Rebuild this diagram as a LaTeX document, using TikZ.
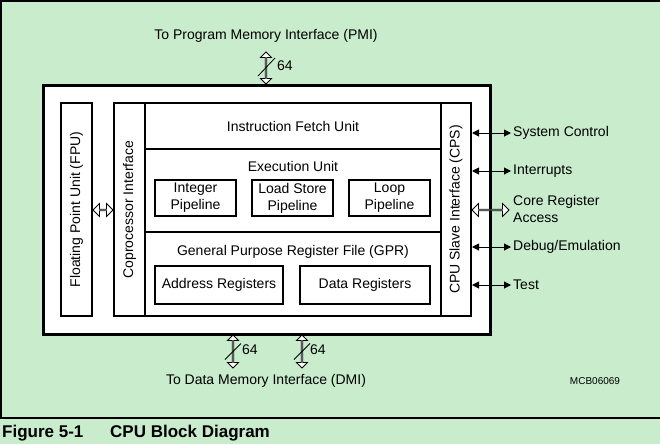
\documentclass[tikz,border=0pt]{standalone}
\usepackage{fontspec}
\setmainfont{Liberation Sans}
\usetikzlibrary{arrows.meta}
\usetikzlibrary{shapes.arrows}
\definecolor{bggreen}{RGB}{200,236,204}
\tikzset{
	% Boxes and arrows of the block diagram
	unit box/.style={rectangle,draw,line width=2pt,fill=white,inner sep=0pt},
	signal arrow/.style={{Triangle[length=7pt,width=7pt]}-{Triangle[length=7pt,width=7pt]},line width=1pt},
	hollow arrow/.style={double arrow,draw,fill=white,line width=0.8pt,inner sep=0pt,double arrow head extend=3.5pt,minimum width=13pt},
	bus arrow/.style={hollow arrow,double arrow head extend=2.5pt,minimum width=11pt,rotate=90}
}

\begin{document}
\begin{tikzpicture}[x=1pt,y=-1pt,font=\fontsize{14}{17}\selectfont]
	\fill[bggreen] (0,0) rectangle (660,444);
	\useasboundingbox (0,0) rectangle (660,444);
	\begin{scope}
		\clip (0,0) rectangle (660,444);
		\draw[line width=1.5pt] (1,1) rectangle (700,418);
	\end{scope}
	
	% CPU outline and its blocks
	\node(cpu)[unit box,line width=3pt,minimum width=447pt,minimum height=249pt] at (266.5,209.5){};
	\node(fpu)[unit box,rotate=90,minimum width=213pt,minimum height=31pt] at (76.5,209.5){Floating Point Unit (FPU)};
	\node(cop)[unit box,rotate=90,minimum width=213pt,minimum height=31pt] at (129.5,209.5){Coprocessor Interface};
	\node(cps)[unit box,rotate=90,minimum width=213pt,minimum height=30pt] at (456,209.5){CPU Slave Interface (CPS)};
	\node(ifu)[unit box,minimum width=296pt,minimum height=46pt] at (293,126){Instruction Fetch Unit};
	\node(exu)[unit box,minimum width=296pt,minimum height=83pt] at (293,190.5){};
	\node(gpr)[unit box,minimum width=296pt,minimum height=84pt] at (293,274){};
	\node(exutitle) at (293,166){Execution Unit};
	\node(gprtitle) at (293,252){General Purpose Register File (GPR)};
	
	% pipelines and register sets
	\node(intp)[unit box,minimum width=81pt,minimum height=36pt,align=center] at (195.5,198){Integer\\Pipeline};
	\node(lsp)[unit box,minimum width=81pt,minimum height=36pt,align=center] at (292.5,198){Load Store\\Pipeline};
	\node(loopp)[unit box,minimum width=81pt,minimum height=36pt,align=center] at (389.5,198){Loop\\Pipeline};
	\node(areg)[unit box,minimum width=128pt,minimum height=38pt] at (219,285){Address Registers};
	\node(dreg)[unit box,minimum width=130pt,minimum height=38pt] at (365,285){Data Registers};
	
	% FPU to coprocessor interface
	\node(fpuarr)[hollow arrow,minimum height=20pt] at (103,210){};
	
	% signals at the slave interface
	\node(sysc)[anchor=west,inner sep=2pt] at (511,133){System Control};
	\node(intr)[anchor=west,inner sep=2pt] at (511,171){Interrupts};
	\node(creg)[anchor=west,inner sep=2pt,align=left] at (511,208.5){Core Register\\Access};
	\node(dbg)[anchor=west,inner sep=2pt] at (511,247){Debug/Emulation};
	\node(tst)[anchor=west,inner sep=2pt] at (511,285){Test};
	\draw[signal arrow] (cps.south |- sysc) -- (sysc.west);
	\draw[signal arrow] (cps.south |- intr) -- (intr.west);
	\draw[signal arrow] (cps.south |- dbg) -- (dbg.west);
	\draw[signal arrow] (cps.south |- tst) -- (tst.west);
	\node(crarr)[hollow arrow,minimum height=37pt] at (490.5,210){};
	
	% memory buses
	\node(pmi) at (266,36){To Program Memory Interface (PMI)};
	\node(dmi) at (266,381){To Data Memory Interface (DMI)};
	\node(busp)[bus arrow,minimum height=32pt] at (266,68){};
	\node(busd1)[bus arrow,minimum height=33pt] at (233,351.5){};
	\node(busd2)[bus arrow,minimum height=33pt] at (302,351.5){};
	\draw[line width=0.8pt] (busp.center) ++(-8,8) -- ++(17,-18);
	\draw[line width=0.8pt] (busd1.center) ++(-8,8) -- ++(16,-16);
	\draw[line width=0.8pt] (busd2.center) ++(-8,8) -- ++(16,-16);
	\node(buspw)[anchor=west,inner sep=1pt] at (276,66){64};
	\node(busd1w)[anchor=west,inner sep=1pt] at (241,350){64};
	\node(busd2w)[anchor=west,inner sep=1pt] at (309,350){64};
	
	\node(drawno)[font=\fontsize{10}{12}\selectfont] at (595,381){MCB06069};
	
	% caption
	\node(figno)[anchor=west,inner sep=0pt,font=\bfseries\fontsize{17}{19}\selectfont] at (2,433){Figure 5-1};
	\node(figtitle)[anchor=west,inner sep=0pt,font=\bfseries\fontsize{17}{19}\selectfont] at (110,433){CPU Block Diagram};
\end{tikzpicture}
\end{document}
